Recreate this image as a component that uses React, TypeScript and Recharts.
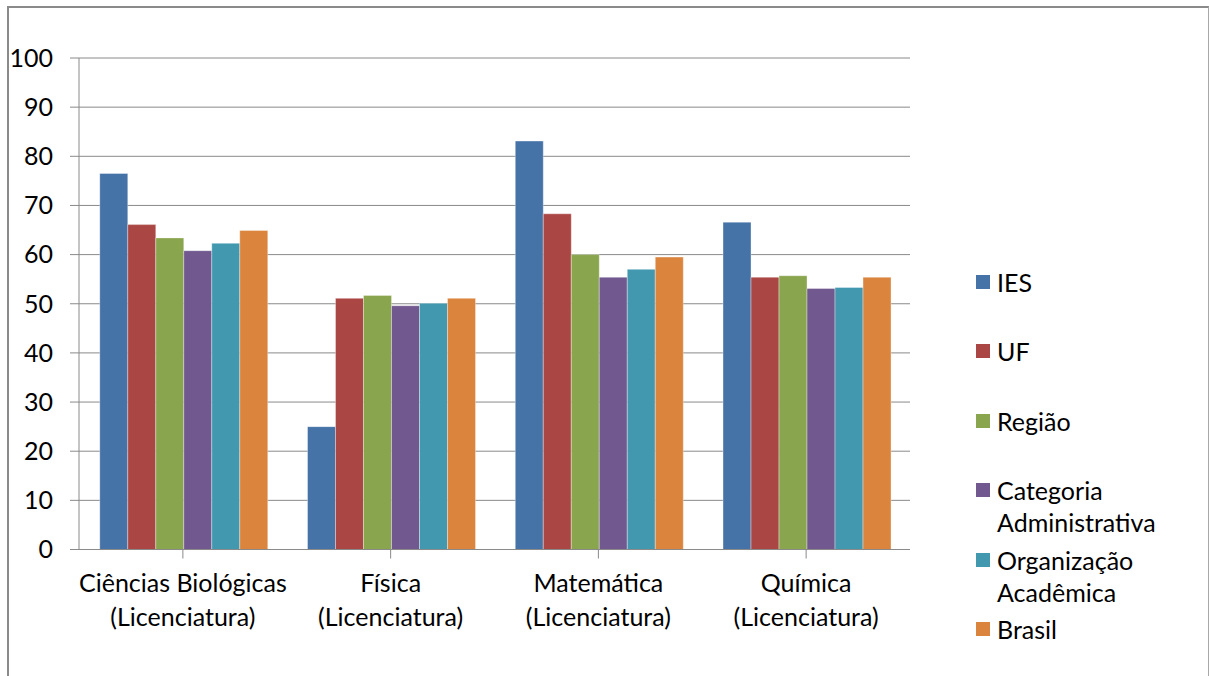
import React from 'react';
import { BarChart, Bar, XAxis, YAxis, CartesianGrid, Legend } from 'recharts';

const categories = [
  'Ciências Biológicas\n(Licenciatura)',
  'Física\n(Licenciatura)',
  'Matemática\n(Licenciatura)',
  'Química\n(Licenciatura)',
];
const ies = [76.5, 25.0, 83.1, 66.6];
const uf = [66.1, 51.1, 68.3, 55.4];
const regiao = [63.4, 51.7, 60.0, 55.7];
const categoriaAdm = [60.8, 49.6, 55.4, 53.1];
const organizacao = [62.3, 50.1, 57.0, 53.3];
const brasil = [64.9, 51.1, 59.5, 55.4];
const yTicks = [0, 10, 20, 30, 40, 50, 60, 70, 80, 90, 100];

const series = [
  { key: 'ies', name: 'IES', color: '#4572A7', values: ies },
  { key: 'uf', name: 'UF', color: '#AA4643', values: uf },
  { key: 'regiao', name: 'Região', color: '#89A54E', values: regiao },
  { key: 'cat', name: 'Categoria Administrativa', color: '#71588F', values: categoriaAdm },
  { key: 'org', name: 'Organização Acadêmica', color: '#4198AF', values: organizacao },
  { key: 'br', name: 'Brasil', color: '#DB843D', values: brasil },
];

const data = categories.map((c, i) => {
  const row: any = { category: c };
  series.forEach((s) => { row[s.key] = s.values[i]; });
  return row;
});

const FONT = 'Lato, "Open Sans", sans-serif';
const FS = 25;

const XTick = (props: any) => {
  const { x, y, payload } = props;
  const lines = String(payload.value).split('\n');
  return (
    <text x={x} y={y} textAnchor="middle" fill="#000" fontFamily={FONT} fontSize={FS}>
      {lines.map((l, i) => (
        <tspan key={i} x={x} dy={i === 0 ? 31 : 34}>{l}</tspan>
      ))}
    </text>
  );
};

const renderLegend = () => (
  <div style={{ fontFamily: FONT, fontSize: FS, color: '#000' }}>
    {series.map((s) => (
      <div key={s.key} style={{ position: 'relative', height: 69.4 }}>
        <div style={{ position: 'absolute', left: 0, top: 9, width: 14, height: 14, background: s.color }} />
        <div style={{ position: 'absolute', left: 21, top: 0, width: 205, lineHeight: '32px' }}>{s.name}</div>
      </div>
    ))}
  </div>
);

export default function App() {
  return (
    <div style={{ position: 'fixed', left: 0, top: 0, width: 1209, height: 676, overflow: 'hidden', background: '#fff' }}>
      <div style={{ position: 'absolute', left: 7, top: 6, width: 1202, height: 720, boxSizing: 'border-box', borderTop: '2px solid #8a8a8a', borderLeft: '2px solid #8a8a8a', borderRight: '1px solid #a8a8a8' }} />
      <div style={{ position: 'absolute', left: 0, top: 0 }}>
        <BarChart
          width={1209}
          height={676}
          data={data}
          margin={{ top: 58, right: 299, bottom: 66.5, left: 8 }}
          barCategoryGap="10%"
          barGap={0}
        >
          <CartesianGrid vertical={false} stroke="#8a8a8a" strokeWidth={1} />
          <XAxis
            dataKey="category"
            height={60}
            tick={<XTick />}
            tickSize={9}
            axisLine={{ stroke: '#8a8a8a' }}
            tickLine={{ stroke: '#8a8a8a' }}
            interval={0}
          />
          <YAxis
            width={71}
            domain={[0, 100]}
            ticks={yTicks}
            tickSize={9}
            tickMargin={17}
            axisLine={{ stroke: '#8a8a8a' }}
            tickLine={{ stroke: '#8a8a8a' }}
            tick={{ fill: '#000', fontFamily: FONT, fontSize: FS }}
            interval={0}
          />
          <Legend
            layout="vertical"
            align="center"
            verticalAlign="middle"
            content={renderLegend}
            wrapperStyle={{ position: 'absolute', left: 976, top: 266, width: 230 }}
          />
          {series.map((s) => (
            <Bar
              key={s.key}
              dataKey={s.key}
              name={s.name}
              fill={s.color}
              stroke="rgba(255,255,255,0.35)"
              strokeWidth={1}
              isAnimationActive={false}
            />
          ))}
        </BarChart>
      </div>
    </div>
  );
}
